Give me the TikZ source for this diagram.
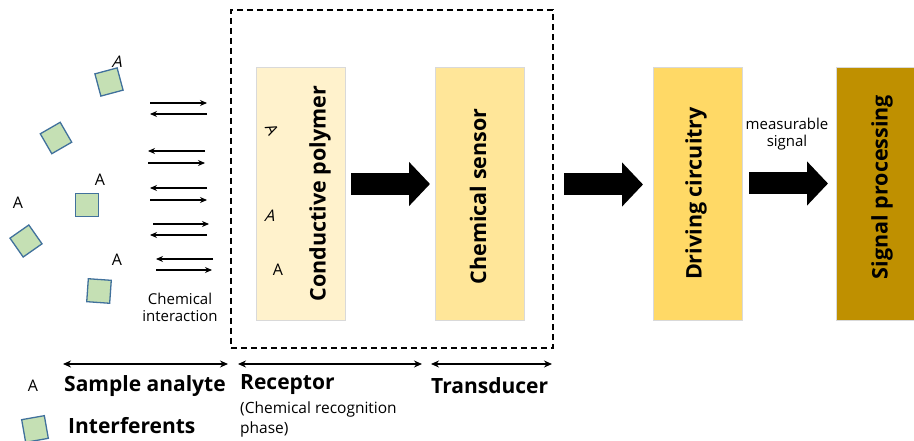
\documentclass[tikz,border=0pt]{standalone}
\usepackage{fontspec}
\setmainfont{Open Sans}
\usetikzlibrary{arrows.meta}
\definecolor{sqfill}{HTML}{C5E0B4}
\definecolor{sqedge}{HTML}{41719C}
\definecolor{polyfill}{HTML}{FFF2CC}
\definecolor{sensfill}{HTML}{FFE699}
\definecolor{drivfill}{HTML}{FFD966}
\definecolor{procfill}{HTML}{BF9000}
\definecolor{boxedge}{HTML}{D9D9D9}
\tikzset{
  block/.style={draw=boxedge, line width=0.6pt, minimum width=89pt, minimum height=253pt, inner sep=0pt},
  blocklabel/.style={rotate=90, font=\bfseries\fontsize{21.5}{24}\selectfont, inner sep=0pt},
  interf/.style={draw=sqedge, fill=sqfill, line width=1.3pt, minimum size=23pt, inner sep=0pt},
  analyte/.style={font=\fontsize{16}{18}\selectfont, inner sep=0pt},
  flow/.style={line width=22pt, -{Triangle[length=21pt,width=43pt]}},
  react/.style={-{Stealth[length=7pt,width=6pt]}, line width=1.1pt},
  span/.style={{Stealth[length=8pt,width=7pt]}-{Stealth[length=8pt,width=7pt]}, line width=2pt},
  legend/.style={font=\bfseries\fontsize{21}{24}\selectfont, anchor=west, inner sep=0pt},
  small/.style={font=\fontsize{15}{18}\selectfont, align=center, inner sep=0pt}
}
\begin{document}
\begin{tikzpicture}[x=1pt,y=-1pt]
\useasboundingbox (0,0) rectangle (914,441);

% recognition + transduction stage
\node[draw, dash pattern=on 6pt off 4pt, line width=1.3pt, minimum width=322pt, minimum height=338pt, inner sep=0pt] (stage) at (392,179) {};

% processing blocks
\node[block, fill=polyfill] (poly) at (301,193.5) {};
\node[blocklabel] (tpoly) at (320,193.5) {Conductive polymer};
\node[block, fill=sensfill] (sens) at (480,193.5) {};
\node[blocklabel] (tsens) at (478,196.5) {Chemical sensor};
\node[block, fill=drivfill] (driv) at (698,193.5) {};
\node[blocklabel] (tdriv) at (696,193.5) {Driving circuitry};
\node[block, fill=procfill] (proc) at (881,193.5) {};
\node[blocklabel] (tproc) at (882,187) {Signal processing};

% analyte bound in the polymer
\node[analyte, rotate=-65] (pa1) at (272,130) {A};
\node[analyte, xslant=0.3] (pa2) at (271,216) {A};
\node[analyte] (pa3) at (278,270) {A};

% block arrows between the stages
\coordinate (f1s) at (351,184);   \coordinate (f1e) at (430,184);
\coordinate (f2s) at (564,184.5); \coordinate (f2e) at (643,184.5);
\coordinate (f3s) at (749,183.5); \coordinate (f3e) at (828,183.5);
\draw[flow] (f1s) -- (f1e);
\draw[flow] (f2s) -- (f2e);
\draw[flow] (f3s) -- (f3e);
\node[small] (meas) at (787,134) {measurable\\[-1pt]signal};

% sample: interferents and analyte
\node[interf, rotate=15] (s1) at (109,82) {};
\node[interf, rotate=30] (s2) at (56,138) {};
\node[interf] (s3) at (87,205) {};
\node[interf, rotate=35] (s4) at (26,241) {};
\node[interf, rotate=-4] (s5) at (99,291) {};
\node[analyte, xslant=0.25] (a1) at (118,62) {A};
\node[analyte] (a2) at (100,180) {A};
\node[analyte] (a3) at (18,203) {A};
\node[analyte] (a4) at (117,260) {A};

% reversible interactions
\coordinate (r1a) at (150,103); \coordinate (r1b) at (207,103);
\coordinate (l1a) at (207,114); \coordinate (l1b) at (150,114);
\coordinate (l2a) at (205,151); \coordinate (l2b) at (148,151);
\coordinate (r2a) at (148,163); \coordinate (r2b) at (205,163);
\coordinate (l3a) at (207,188); \coordinate (l3b) at (150,188);
\coordinate (r3a) at (150,200); \coordinate (r3b) at (207,200);
\coordinate (r4a) at (153,224); \coordinate (r4b) at (209,224);
\coordinate (l4a) at (207,235); \coordinate (l4b) at (150,235);
\coordinate (l5a) at (213,259); \coordinate (l5b) at (156,259);
\coordinate (r5a) at (156,270); \coordinate (r5b) at (212,270);
\foreach \p in {r1,l1,l2,r2,l3,r3,r4,l4,l5,r5}
  \draw[react] (\p a) -- (\p b);
\node[small] (chem) at (180,307) {Chemical\\[-1pt]interaction};

% stage spans
\coordinate (sa1) at (63,364); \coordinate (sa2) at (228,364);
\coordinate (rc1) at (238,364); \coordinate (rc2) at (422,364);
\coordinate (td1) at (431,364); \coordinate (td2) at (552,364);
\draw[span] (sa1) -- (sa2);
\draw[span] (rc1) -- (rc2);
\draw[span] (td1) -- (td2);

% legend and labels
\node[analyte] (la) at (33,386) {A};
\node[legend] (lsa) at (64,386) {Sample analyte};
\node[interf, rotate=10] (ls) at (35,429) {};
\node[legend] (lint) at (68,426) {Interferents};
\node[legend] (lrec) at (240,385) {Receptor};
\node[font=\fontsize{15.5}{20}\selectfont, anchor=north west, align=left, inner sep=0pt] (lphase) at (240,402) {(Chemical recognition\\phase)};
\node[legend] (ltr) at (431,386) {Transducer};
\end{tikzpicture}
\end{document}
